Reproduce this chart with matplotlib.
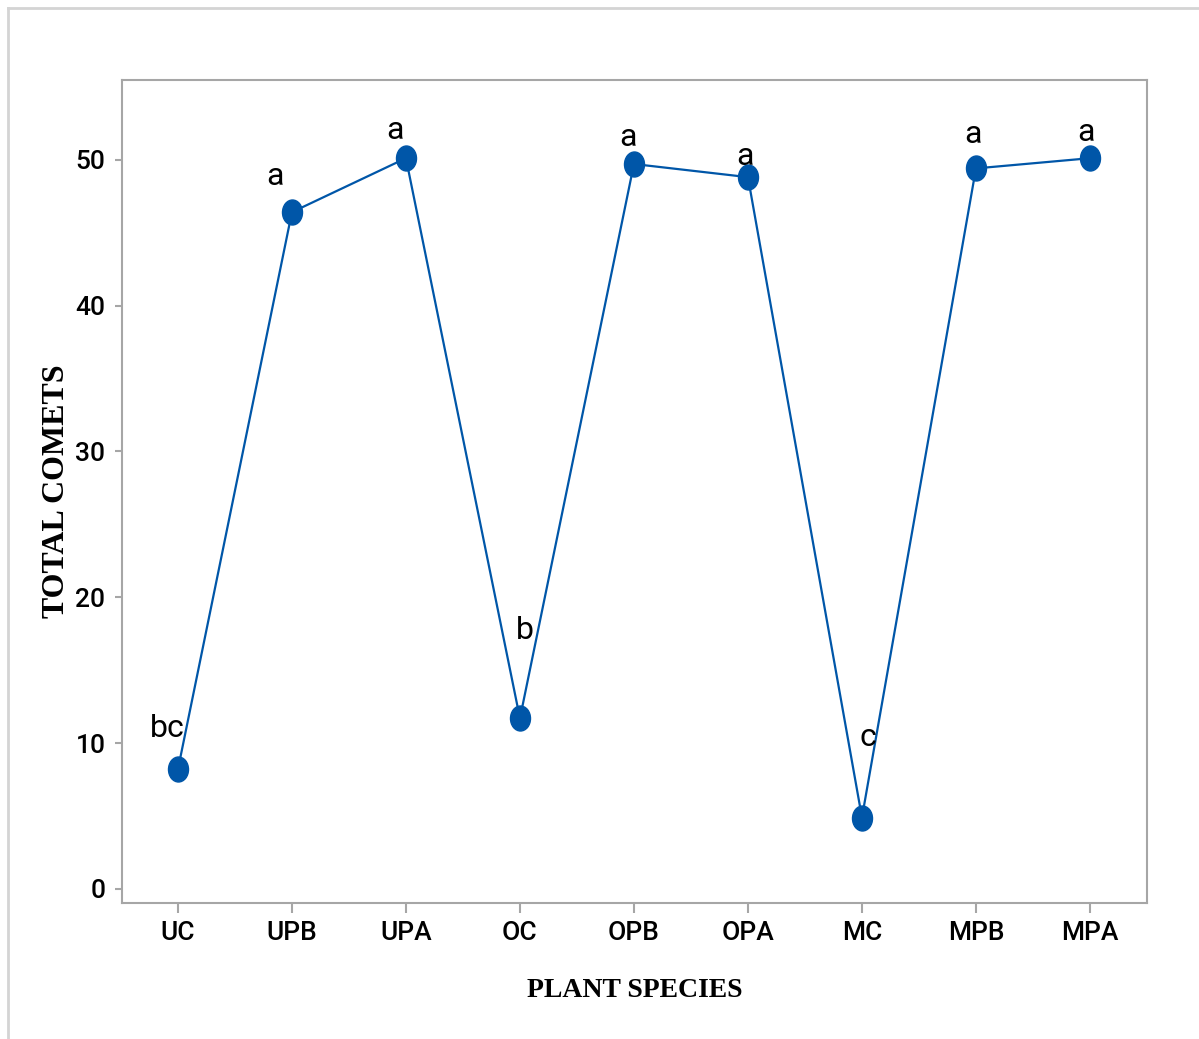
import numpy as np
import matplotlib
matplotlib.use("Agg")
import matplotlib.pyplot as plt
from matplotlib.path import Path
from matplotlib.lines import Line2D
from matplotlib.markers import MarkerStyle

# treatment groups and mean comet counts
species = ["UC", "UPB", "UPA", "OC", "OPB", "OPA", "MC", "MPB", "MPA"]
comets = [8.2, 46.4, 50.1, 11.7, 49.7, 48.8, 4.9, 49.4, 50.1]
groups = ["bc", "a", "a", "b", "a", "a", "c", "a", "a"]

# where each group letter sits relative to its point (pixels)
letter_dx = [-11, -17, -11, 5, -6, -3, 6, -3, -4]
letter_dy = [32, 27, 19, 79, 18, 12, 72, 25, 17]

blue = "#0056a8"
spine_grey = "#a6a6a6"
sans = ["Roboto", "DejaVu Sans"]
serif = ["Liberation Serif", "DejaVu Serif"]

fig = plt.figure(figsize=(11.99, 10.39), dpi=100)
ax = fig.add_axes([0.1018, 0.1309, 0.8548, 0.7921])

# slightly tall oval marker
circ = Path.unit_circle()
oval = Path(circ.vertices * np.array([1.0, 1.25]), circ.codes)

x = np.arange(len(species))
ax.plot(x, comets, color=blue, lw=1.6, marker=MarkerStyle(oval),
        markersize=18, markerfacecolor=blue, markeredgecolor=blue, zorder=3)

for xi, yi, g, dx, dy in zip(x, comets, groups, letter_dx, letter_dy):
    ax.annotate(g, (xi, yi), xytext=(dx, dy), textcoords="offset pixels",
                ha="center", va="baseline", fontsize=23, family=sans)

ax.set_xlim(-0.49, 8.5)
ax.set_ylim(-0.96, 55.46)
ax.set_xticks(x)
ax.set_xticklabels(species)
ax.set_yticks([0, 10, 20, 30, 40, 50])

for lab in ax.get_xticklabels() + ax.get_yticklabels():
    lab.set_family(sans)
    lab.set_fontsize(19)
    lab.set_fontweight("medium")

for s in ax.spines.values():
    s.set_color(spine_grey)
    s.set_linewidth(1.5)
ax.tick_params(axis="x", length=7, width=1.5, color=spine_grey, pad=6)
ax.tick_params(axis="y", length=5, width=1.5, color=spine_grey, pad=7)

ax.set_xlabel("PLANT SPECIES", family=serif, fontweight="bold", fontsize=20,
              labelpad=24)
ax.set_ylabel("TOTAL COMETS", family=serif, fontweight="bold", fontsize=23,
              labelpad=3)

# light frame along the top and left edges
fig.add_artist(Line2D([8 / 1199, 1.0], [1 - 8 / 1039] * 2,
                      transform=fig.transFigure, color="#d4d4d4", lw=2))
fig.add_artist(Line2D([8 / 1199] * 2, [0.0, 1 - 8 / 1039],
                      transform=fig.transFigure, color="#d4d4d4", lw=2))

fig.savefig("out.png", dpi=100)
